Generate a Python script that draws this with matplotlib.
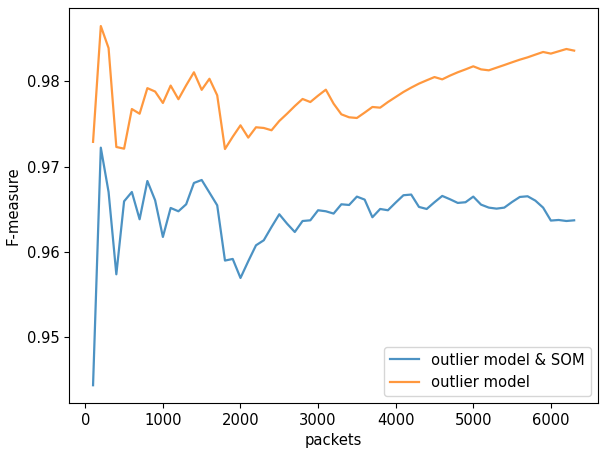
import numpy as np
from matplotlib import pyplot as plt

packets = list(range(100, 6400, 100))

som_fmeasure = [
    0.94436, 0.97222, 0.96702, 0.95737, 0.96593, 0.96702, 0.96382, 0.96831, 0.96605, 0.96175,
    0.96515, 0.96476, 0.96558, 0.96808, 0.96843, 0.96695, 0.96546, 0.95898, 0.95917, 0.95694,
    0.95890, 0.96077, 0.96136, 0.96292, 0.96441, 0.96331, 0.96233, 0.96362, 0.96370, 0.96488,
    0.96476, 0.96449, 0.96558, 0.96550, 0.96648, 0.96613, 0.96406, 0.96503, 0.96488, 0.96578,
    0.96664, 0.96672, 0.96527, 0.96503, 0.96582, 0.96656, 0.96617, 0.96574, 0.96582, 0.96648,
    0.96554, 0.96519, 0.96507, 0.96519, 0.96585, 0.96644, 0.96652, 0.96601, 0.96519, 0.96367,
    0.96374, 0.96362, 0.96370,
]

outlier_fmeasure = [
    0.97290, 0.98648, 0.98390, 0.97230, 0.97210, 0.97675, 0.97620, 0.97920, 0.97880, 0.97746,
    0.97950, 0.97790, 0.97953, 0.98106, 0.97900, 0.98030, 0.97836, 0.97206, 0.97350, 0.97484,
    0.97340, 0.97461, 0.97453, 0.97426, 0.97535, 0.97620, 0.97710, 0.97793, 0.97757, 0.97832,
    0.97902, 0.97738, 0.97613, 0.97578, 0.97570, 0.97633, 0.97699, 0.97691, 0.97757, 0.97816,
    0.97875, 0.97926, 0.97973, 0.98012, 0.98050, 0.98023, 0.98067, 0.98106, 0.98140, 0.98176,
    0.98140, 0.98129, 0.98160, 0.98191, 0.98223, 0.98254, 0.98281, 0.98313, 0.98344, 0.98325,
    0.98352, 0.98379, 0.98360,
]

plt.rcParams["font.size"] = 10.6

plt.figure(figsize=(6.0, 4.5), dpi=100)
plt.plot(packets, som_fmeasure, label="outlier model & SOM", alpha=0.8, linewidth=1.6)
plt.plot(packets, outlier_fmeasure, label="outlier model", alpha=0.8, linewidth=1.6)
plt.xlabel("packets")
plt.ylabel("F-measure")
plt.legend(loc="lower right")
plt.subplots_adjust(left=0.115, right=0.997, top=0.982, bottom=0.104)
plt.savefig("out.png")
